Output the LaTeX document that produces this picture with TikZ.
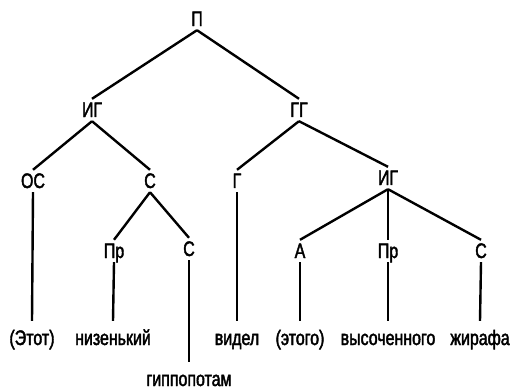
\documentclass[tikz,border=0pt]{standalone}
\usepackage{fontspec}
\setmainfont{Liberation Sans}
\newfontfamily\labfont[FakeStretch=0.76,FakeBold=2]{Liberation Sans}
\newfontfamily\wordfont[FakeStretch=0.76,FakeBold=2]{Liberation Sans}
\begin{document}
\begin{tikzpicture}[x=1pt,y=-1pt,
  lab/.style={anchor=base,font=\labfont\fontsize{21}{21}\selectfont,text height=14pt,text depth=0pt,inner xsep=0pt,inner ysep=4pt},
  word/.style={anchor=base,font=\wordfont\fontsize{21}{21}\selectfont,text height=10pt,text depth=0pt,inner xsep=0pt,inner ysep=14pt},
  edge/.style={line width=2.4pt}]
\useasboundingbox (0,0) rectangle (513,389);
% category labels
\node[lab] (p) at (197,26) {П};
\node[lab] (ig1) at (92,117) {ИГ};
\node[lab] (gg) at (299,117) {ГГ};
\node[lab] (os) at (33,188) {ОС};
\node[lab] (s1) at (150,188) {С};
\node[lab] (g) at (237,188) {Г};
\node[lab] (ig2) at (388,185) {ИГ};
\node[lab] (pr1) at (114,258) {Пр};
\node[lab] (s2) at (189,256) {С};
\node[lab] (a) at (300,258) {А};
\node[lab] (pr2) at (388,258) {Пр};
\node[lab] (s3) at (481,258) {С};
% words
\node[word] (w1) at (32,345) {(Этот)};
\node[word] (w2) at (113,345) {низенький};
\node[word] (w3) at (189,386) {гиппопотам};
\node[word] (w4) at (237,345) {видел};
\node[word] (w5) at (300,345) {(этого)};
\node[word] (w6) at (388,345) {высоченного};
\node[word] (w7) at (480,345) {жирафа};
% branches
\draw[edge] (p.south) -- (ig1.north);
\draw[edge] (p.south) -- (gg.north);
\draw[edge] (ig1.south) -- (os.north);
\draw[edge] (ig1.south) -- (s1.north);
\draw[edge] (gg.south) -- (g.north);
\draw[edge] (gg.south) -- (ig2.north);
\draw[edge] (s1.south) -- (pr1.north);
\draw[edge] (s1.south) -- (s2.north);
\draw[edge] (ig2.south) -- (a.north);
\draw[edge] (ig2.south) -- (pr2.north);
\draw[edge] (ig2.south) -- (s3.north);
% leaves
\draw[edge] (os.south) -- (w1.north);
\draw[edge] (pr1.south) -- (w2.north);
\draw[edge] (s2.south) -- (w3.north);
\draw[edge] (g.south) -- (w4.north);
\draw[edge] (a.south) -- (w5.north);
\draw[edge] (pr2.south) -- (w6.north);
\draw[edge] (s3.south) -- (w7.north);
\end{tikzpicture}
\end{document}
